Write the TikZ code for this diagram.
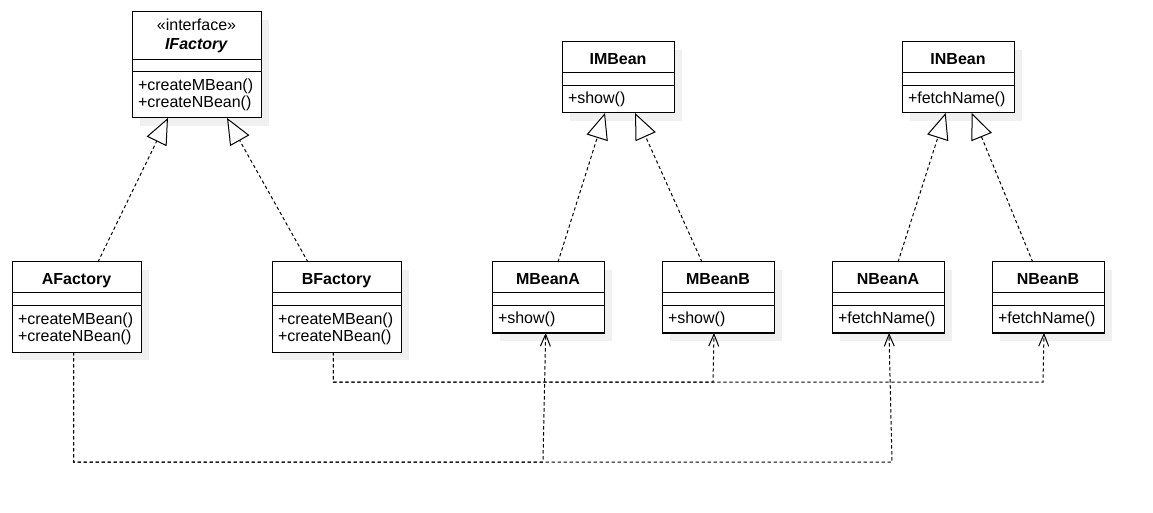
\documentclass[tikz,border=0pt]{standalone}
\usepackage{fontspec}
\setmainfont{Liberation Sans}
\usetikzlibrary{positioning,arrows.meta,shadows}

\begin{document}
\begin{tikzpicture}[x=0.75pt,y=-0.75pt,
    cls/.style={draw,fill=white,line width=0.75pt,inner xsep=4.5pt,inner ysep=0pt,outer sep=0pt,
        font=\fontsize{12}{12.75}\selectfont,
        drop shadow={shadow xshift=6pt,shadow yshift=-6pt,fill=gray!12,opacity=1}},
    head/.style={cls,align=center,minimum height=23.25pt},
    title/.style={text height=11.25pt,text depth=0pt},
    attr/.style={cls,minimum height=9.75pt},
    ops/.style={cls,align=left,minimum height=#1},
    wide/.style={minimum width=96.75pt,text width=87.75pt},
    narrow/.style={minimum width=84pt,text width=75pt},
    realize/.style={line width=0.75pt,dash pattern=on 2.5pt off 2pt,
        -{Triangle[length=19.5pt,width=16.5pt,fill=white]}},
    depend/.style={line width=0.75pt,dash pattern=on 2.5pt off 2pt,
        -{Straight Barb[length=9pt,width=7.5pt]}}]

    \useasboundingbox (0,0) rectangle (1153,513);

    \node[head,wide,minimum height=36pt,anchor=north west] (ifac) at (132,12) {«interface»\\[2pt]\textbf{\textit{IFactory}}};
    \node[attr,wide,minimum height=9pt,below=0pt of ifac] (ifac-attr) {};
    \node[ops=34.5pt,wide,below=0pt of ifac-attr] (ifac-ops) {+createMBean()\\+createNBean()};

    \node[head,title,wide,anchor=north west] (afac) at (12,262) {\textbf{AFactory}};
    \node[attr,wide,below=0pt of afac] (afac-attr) {};
    \node[ops=34.5pt,wide,below=0pt of afac-attr] (afac-ops) {+createMBean()\\+createNBean()};

    \node[head,title,wide,anchor=north west] (bfac) at (272,262) {\textbf{BFactory}};
    \node[attr,wide,below=0pt of bfac] (bfac-attr) {};
    \node[ops=34.5pt,wide,below=0pt of bfac-attr] (bfac-ops) {+createMBean()\\+createNBean()};

    \node[head,title,narrow,anchor=north west] (imb) at (562,42) {\textbf{IMBean}};
    \node[attr,narrow,below=0pt of imb] (imb-attr) {};
    \node[ops=20.25pt,narrow,below=0pt of imb-attr] (imb-ops) {+show()};

    \node[head,title,narrow,anchor=north west] (inb) at (902,42) {\textbf{INBean}};
    \node[attr,narrow,below=0pt of inb] (inb-attr) {};
    \node[ops=20.25pt,narrow,below=0pt of inb-attr] (inb-ops) {+fetchName()};

    \node[head,title,narrow,anchor=north west] (mba) at (492,262) {\textbf{MBeanA}};
    \node[attr,narrow,below=0pt of mba] (mba-attr) {};
    \node[ops=20.25pt,narrow,below=0pt of mba-attr] (mba-ops) {+show()};

    \node[head,title,narrow,anchor=north west] (mbb) at (662,262) {\textbf{MBeanB}};
    \node[attr,narrow,below=0pt of mbb] (mbb-attr) {};
    \node[ops=20.25pt,narrow,below=0pt of mbb-attr] (mbb-ops) {+show()};

    \node[head,title,narrow,anchor=north west] (nba) at (832,262) {\textbf{NBeanA}};
    \node[attr,narrow,below=0pt of nba] (nba-attr) {};
    \node[ops=20.25pt,narrow,below=0pt of nba-attr] (nba-ops) {+fetchName()};

    \node[head,title,narrow,anchor=north west] (nbb) at (992,262) {\textbf{NBeanB}};
    \node[attr,narrow,below=0pt of nbb] (nbb-attr) {};
    \node[ops=20.25pt,narrow,below=0pt of nbb-attr] (nbb-ops) {+fetchName()};

    \draw[realize] ([xshift=16.1pt]afac.north) -- ([xshift=-21.4pt]ifac-ops.south);
    \draw[realize] ([xshift=-21.4pt]bfac.north) -- ([xshift=22.9pt]ifac-ops.south);
    \draw[realize] ([xshift=7.5pt]mba.north) -- ([xshift=-9.75pt]imb-ops.south);
    \draw[realize] ([xshift=-12pt]mbb.north) -- ([xshift=12.75pt]imb-ops.south);
    \draw[realize] ([xshift=7.5pt]nba.north) -- ([xshift=-9.25pt]inb-ops.south);
    \draw[realize] ([xshift=-11.5pt]nbb.north) -- ([xshift=10.3pt]inb-ops.south);

    \draw[depend] ([xshift=-2.25pt]afac-ops.south) |- (543,462) -- ([xshift=-1.75pt]mba-ops.south);
    \draw[depend] ([xshift=-2.25pt]afac-ops.south) |- (892,462) -- ([xshift=0.75pt]nba-ops.south);
    \draw[depend] ([xshift=-2.4pt]bfac-ops.south) |- (713,382) -- ([xshift=-3pt]mbb-ops.south);
    \draw[depend] ([xshift=-2.4pt]bfac-ops.south) |- (1043,382) -- ([xshift=-3pt]nbb-ops.south);
\end{tikzpicture}
\end{document}
